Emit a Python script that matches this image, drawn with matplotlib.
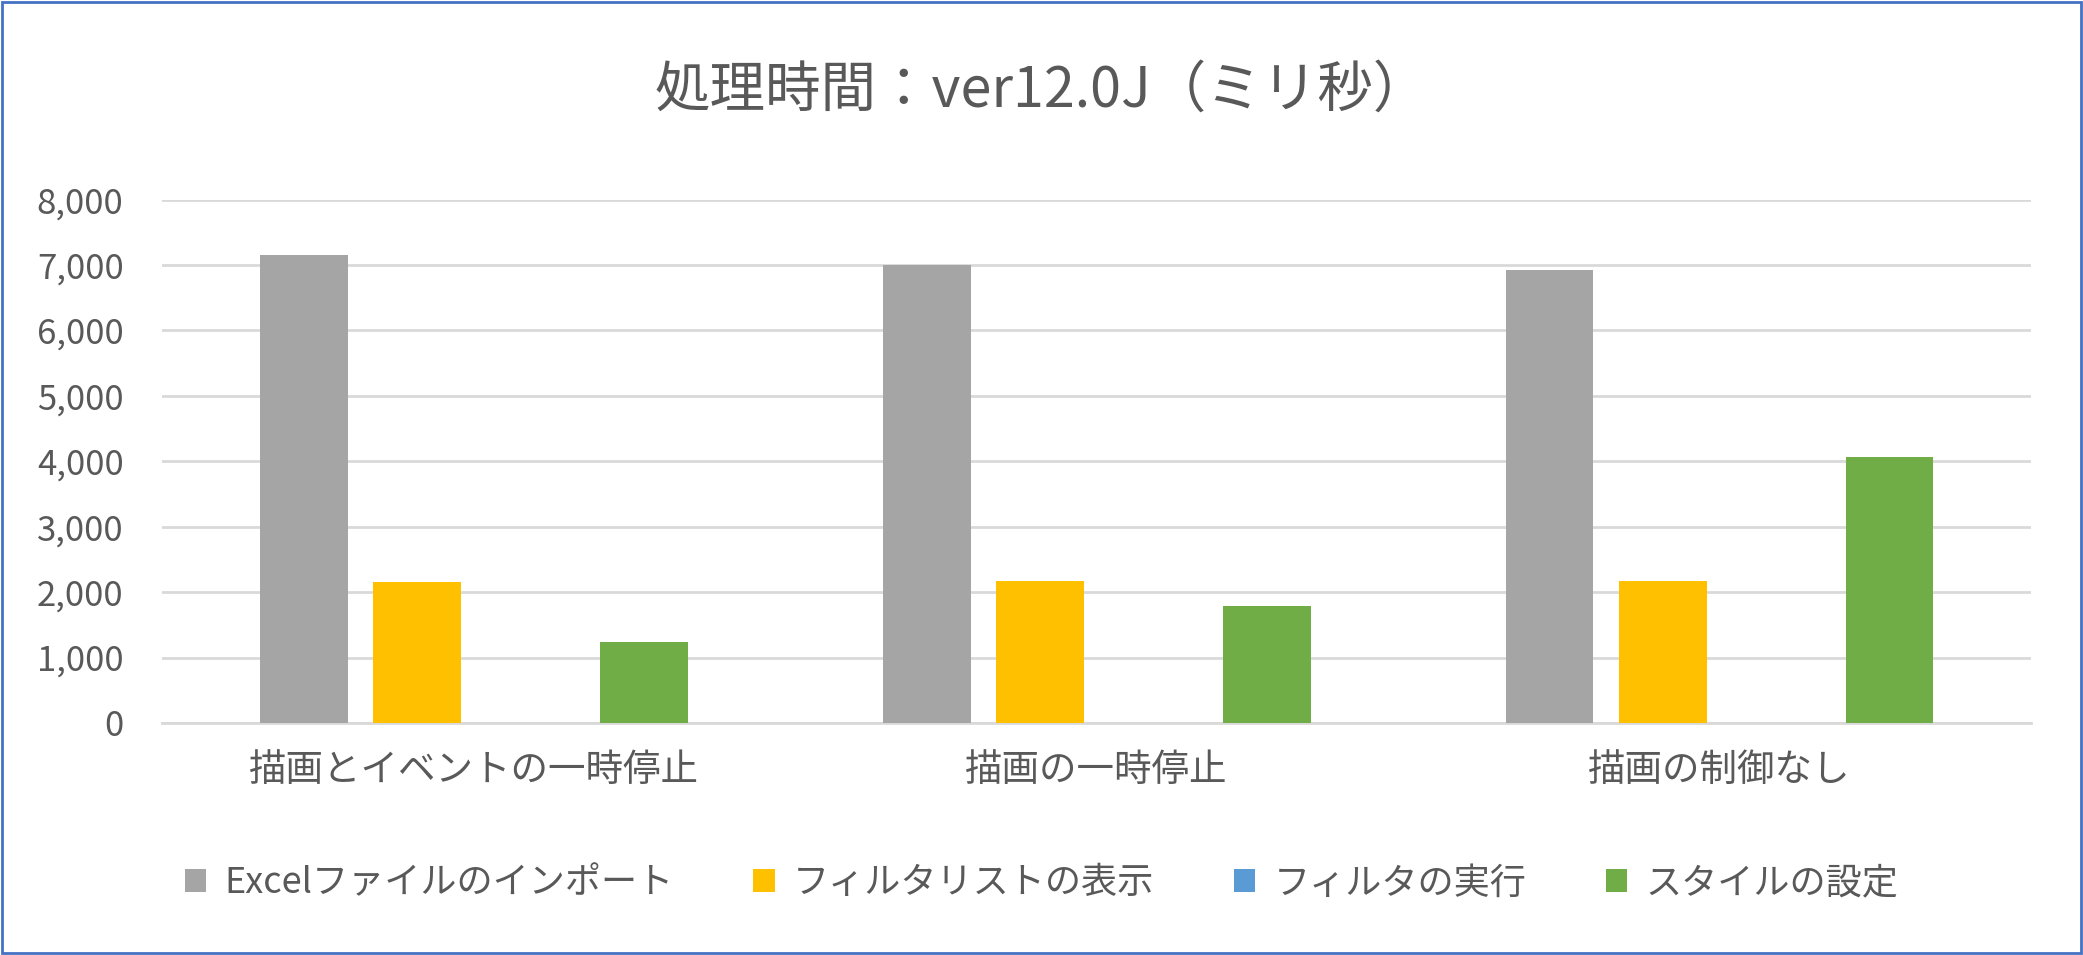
import matplotlib
matplotlib.use("Agg")
import matplotlib.pyplot as plt
import numpy as np
from matplotlib.patches import Rectangle

plt.rcParams['font.family'] = ['Noto Sans CJK JP', 'DejaVu Sans']

categories = ["描画とイベントの一時停止", "描画の一時停止", "描画の制御なし"]
series_names = ["Excelファイルのインポート", "フィルタリストの表示", "フィルタの実行", "スタイルの設定"]
import_ms = [7150, 7000, 6930]
filterlist_ms = [2150, 2170, 2170]
filter_ms = [5, 5, 5]
style_ms = [1230, 1780, 4060]
colors = ["#a5a5a5", "#ffc000", "#5b9bd5", "#70ad47"]
yticks = [0, 1000, 2000, 3000, 4000, 5000, 6000, 7000, 8000]

txt = "#595959"
fig = plt.figure(figsize=(20.83, 9.55), dpi=100)
ax = fig.add_axes([0.078, 0.243, 0.897, 0.548])

x = np.arange(len(categories))
w = 0.141
pitch = 0.182
for i, (vals, name) in enumerate(zip([import_ms, filterlist_ms, filter_ms, style_ms], series_names)):
    ax.bar(x + (i - 1.5) * pitch, vals, w, color=colors[i], label=name, zorder=3)

ax.set_xlim(-0.5, 2.5)
ax.set_ylim(0, 8000)
ax.set_yticks(yticks)
ax.set_yticklabels([f"{v:,}" for v in yticks], fontsize=25, color=txt)
ax.set_xticks(x)
ax.set_xticklabels(categories, fontsize=27, color=txt)
ax.tick_params(length=0)
ax.tick_params(axis='x', pad=20)
ax.tick_params(axis='y', pad=28)
ax.grid(axis='y', color="#d9d9d9", linewidth=2, zorder=0)
for s in ["top", "right", "left"]:
    ax.spines[s].set_visible(False)
ax.spines["bottom"].set_color("#d9d9d9")
ax.spines["bottom"].set_linewidth(2)

fig.text(0.5, 0.905, "処理時間：ver12.0J（ミリ秒）", ha="center", va="center",
         fontsize=40, color=txt)
fig.legend(loc="center", bbox_to_anchor=(0.5, 0.075), ncol=4, frameon=False,
           fontsize=26, labelcolor=txt, handlelength=0.6, handleheight=0.6,
           columnspacing=2.2, handletextpad=0.5)
fig.patches.append(Rectangle((0.001, 0.002), 0.998, 0.996, transform=fig.transFigure,
                             fill=False, edgecolor="#4472c4", linewidth=2))
fig.savefig("out.png", dpi=100, facecolor="white")
